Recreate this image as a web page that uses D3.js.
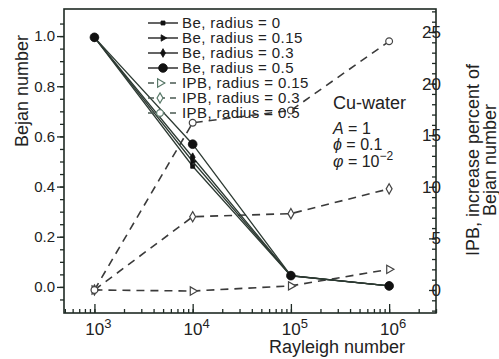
<!DOCTYPE html>
<html>
<head>
<meta charset="utf-8">
<script src="https://cdn.jsdelivr.net/npm/d3@7"></script>
<style>
  body { margin: 0; background: #fff; }
  text { font-family: "Liberation Sans", Arial, sans-serif; fill: #222; }
</style>
</head>
<body>
<svg id="chart" width="499" height="359"></svg>
<script>
// data
const rayleigh = [1e3, 1e4, 1e5, 1e6];
const beR0   = [0.995, 0.481, 0.044, 0.004];
const beR015 = [0.995, 0.500, 0.044, 0.004];
const beR03  = [0.995, 0.517, 0.045, 0.004];
const beR05  = [0.995, 0.569, 0.045, 0.004];
const ipbR015 = [0, -0.1, 0.4, 2.0];
const ipbR03  = [0, 7.1, 7.4, 9.8];
const ipbR05  = [0, 16.2, 17.4, 24.1];
const legendLabels = ["Be, radius = 0", "Be, radius = 0.15", "Be, radius = 0.3", "Be, radius = 0.5",
  "IPB, radius = 0.15", "IPB, radius = 0.3", "IPB, radius = 0.5"];
const leftTicks = [0, 0.2, 0.4, 0.6, 0.8, 1.0];
const rightTicks = [0, 5, 10, 15, 20, 25];
const xTickExp = [3, 4, 5, 6];

const svg = d3.select("#chart");
const pLeft = 64, pRight = 436, pTop = 9, pBottom = 313;
const ink = "#1e2a24";

const x = d3.scaleLog().domain([490, 3e6]).range([pLeft, pRight]);
const yL = d3.scaleLinear().domain([-0.104, 1.108]).range([pBottom, pTop]);
const yR = d3.scaleLinear().domain([-2.23, 27.23]).range([pBottom, pTop]);

const series = [
  { vals: ipbR015, y: yR, dash: true,  sym: d3.symbolTriangle, size: 30, rot: 90, open: true },
  { vals: ipbR03,  y: yR, dash: true,  sym: d3.symbolDiamond,  size: 30, rot: 0,  open: true },
  { vals: ipbR05,  y: yR, dash: true,  sym: d3.symbolCircle,   size: 36, rot: 0,  open: true },
  { vals: beR0,    y: yL, dash: false, sym: d3.symbolSquare,   size: 16, rot: 0,  open: false },
  { vals: beR015,  y: yL, dash: false, sym: d3.symbolTriangle, size: 18, rot: 90, open: false },
  { vals: beR03,   y: yL, dash: false, sym: d3.symbolDiamond,  size: 22, rot: 0,  open: false },
  { vals: beR05,   y: yL, dash: false, sym: d3.symbolCircle,   size: 60, rot: 0,  open: false }
];
const legendOrder = [3, 4, 5, 6, 0, 1, 2];

// frame
svg.append("rect").attr("x", pLeft).attr("y", pTop)
  .attr("width", pRight - pLeft).attr("height", pBottom - pTop)
  .attr("fill", "none").attr("stroke", ink).attr("stroke-width", 1.6);

// left axis
const gL = svg.append("g").attr("transform", `translate(${pLeft},0)`);
gL.call(d3.axisLeft(yL).tickValues(d3.range(-0.05, 1.06, 0.05)).tickSize(4).tickFormat(""));
gL.append("g").call(d3.axisLeft(yL).tickValues(leftTicks).tickSize(7).tickFormat(d3.format(".1f")));
gL.selectAll(".domain").remove();
gL.selectAll("line").attr("stroke", ink).attr("stroke-width", 1.3);
gL.selectAll("text").attr("font-size", 15).attr("fill", "#222").attr("x", -9)
  .attr("font-family", '"Liberation Sans", Arial, sans-serif');

// right axis (ticks inside)
const gR = svg.append("g").attr("transform", `translate(${pRight},0)`);
gR.call(d3.axisLeft(yR).tickValues(d3.range(-2, 28, 1)).tickSize(4).tickFormat(""));
gR.append("g").call(d3.axisLeft(yR).tickValues(rightTicks).tickSize(7).tickFormat(""));
gR.selectAll(".domain").remove();
gR.selectAll("line").attr("stroke", ink).attr("stroke-width", 1.3);
gR.selectAll(".rlab").data(rightTicks).join("text")
  .attr("x", 5).attr("y", d => yR(d) + 6).attr("font-size", 17).text(d => d);

// bottom axis (ticks inside)
const minorX = [];
for (let e = 2; e <= 6; e++) for (let m = 1; m <= 9; m++) {
  const v = m * Math.pow(10, e);
  if (v >= 490 && v <= 3e6) minorX.push(v);
}
const gB = svg.append("g").attr("transform", `translate(0,${pBottom})`);
gB.call(d3.axisTop(x).tickValues(minorX).tickSize(4).tickFormat(""));
gB.append("g").call(d3.axisTop(x).tickValues(xTickExp.map(e => Math.pow(10, e))).tickSize(9).tickFormat(""));
gB.selectAll(".domain").remove();
gB.selectAll("line").attr("stroke", ink).attr("stroke-width", 1.3);
const xl = svg.selectAll(".xlab").data(xTickExp).join("text")
  .attr("x", d => x(Math.pow(10, d)) + 4).attr("y", 335)
  .attr("text-anchor", "middle").attr("font-size", 17);
xl.append("tspan").text("10");
xl.append("tspan").attr("font-size", 13).attr("dy", -7).text(d => d);

// lines
const line = s => d3.line().x((d, i) => x(rayleigh[i])).y(d => s.y(d));
series.forEach(s => {
  svg.append("path").datum(s.vals)
    .attr("d", line(s))
    .attr("fill", "none")
    .attr("stroke", s.dash ? "#3a3a3a" : "#2d3a33")
    .attr("stroke-width", s.dash ? 1.6 : 1.3)
    .attr("stroke-dasharray", s.dash ? "8,6" : null);
});

const marker = (g, s, px, py) => g.append("path")
  .attr("d", d3.symbol(s.sym, s.size)())
  .attr("transform", `translate(${px},${py}) rotate(${s.rot})`)
  .attr("fill", s.open ? "#fff" : "#111")
  .attr("stroke", s.open ? "#444" : "#111")
  .attr("stroke-width", s.open ? 1.2 : 0.8);

series.forEach(s => {
  s.vals.forEach((v, i) => marker(svg, s, x(rayleigh[i]), s.y(v)));
});

// legend
const legend = svg.append("g");
legendOrder.forEach((si, k) => {
  const s = series[si];
  const cy = 23 + 15 * k;
  legend.append("line").attr("x1", 148).attr("x2", 178).attr("y1", cy).attr("y2", cy)
    .attr("stroke", s.dash ? "#4a5a52" : "#222").attr("stroke-width", 1.4)
    .attr("stroke-dasharray", s.dash ? "6,5" : null);
  marker(legend, s, s.dash ? 160 : 163, cy).attr("stroke", s.dash ? "#5a7a6a" : "#111");
  legend.append("text").attr("x", 182).attr("y", cy + 5)
    .attr("font-size", 15).attr("letter-spacing", 0.4).text(legendLabels[k]);
});

// annotations
svg.append("text").attr("x", 333).attr("y", 109).attr("font-size", 18).text("Cu-water");
const a1 = svg.append("text").attr("x", 333).attr("y", 134).attr("font-size", 16);
a1.append("tspan").attr("font-style", "italic").text("A");
a1.append("tspan").text(" = 1");
const a2 = svg.append("text").attr("x", 333).attr("y", 150).attr("font-size", 16);
a2.append("tspan").attr("font-style", "italic").text("\u03D5");
a2.append("tspan").text(" = 0.1");
const a3 = svg.append("text").attr("x", 333).attr("y", 167).attr("font-size", 16);
a3.append("tspan").attr("font-style", "italic").text("\u03C6");
a3.append("tspan").text(" = 10");
a3.append("tspan").attr("font-size", 12).attr("dy", -7).text("\u22122");

// axis titles
svg.append("text").attr("transform", "translate(28,91) rotate(-90)")
  .attr("text-anchor", "middle").attr("font-size", 18).text("Bejan number");
svg.append("text").attr("x", 337).attr("y", 353)
  .attr("text-anchor", "middle").attr("font-size", 18).text("Rayleigh number");
svg.append("text").attr("transform", "translate(479,160) rotate(-90)")
  .attr("text-anchor", "middle").attr("font-size", 18).text("IPB, increase percent of");
svg.append("text").attr("transform", "translate(496,160) rotate(-90)")
  .attr("text-anchor", "middle").attr("font-size", 18).text("Bejan number");
</script>
</body>
</html>
